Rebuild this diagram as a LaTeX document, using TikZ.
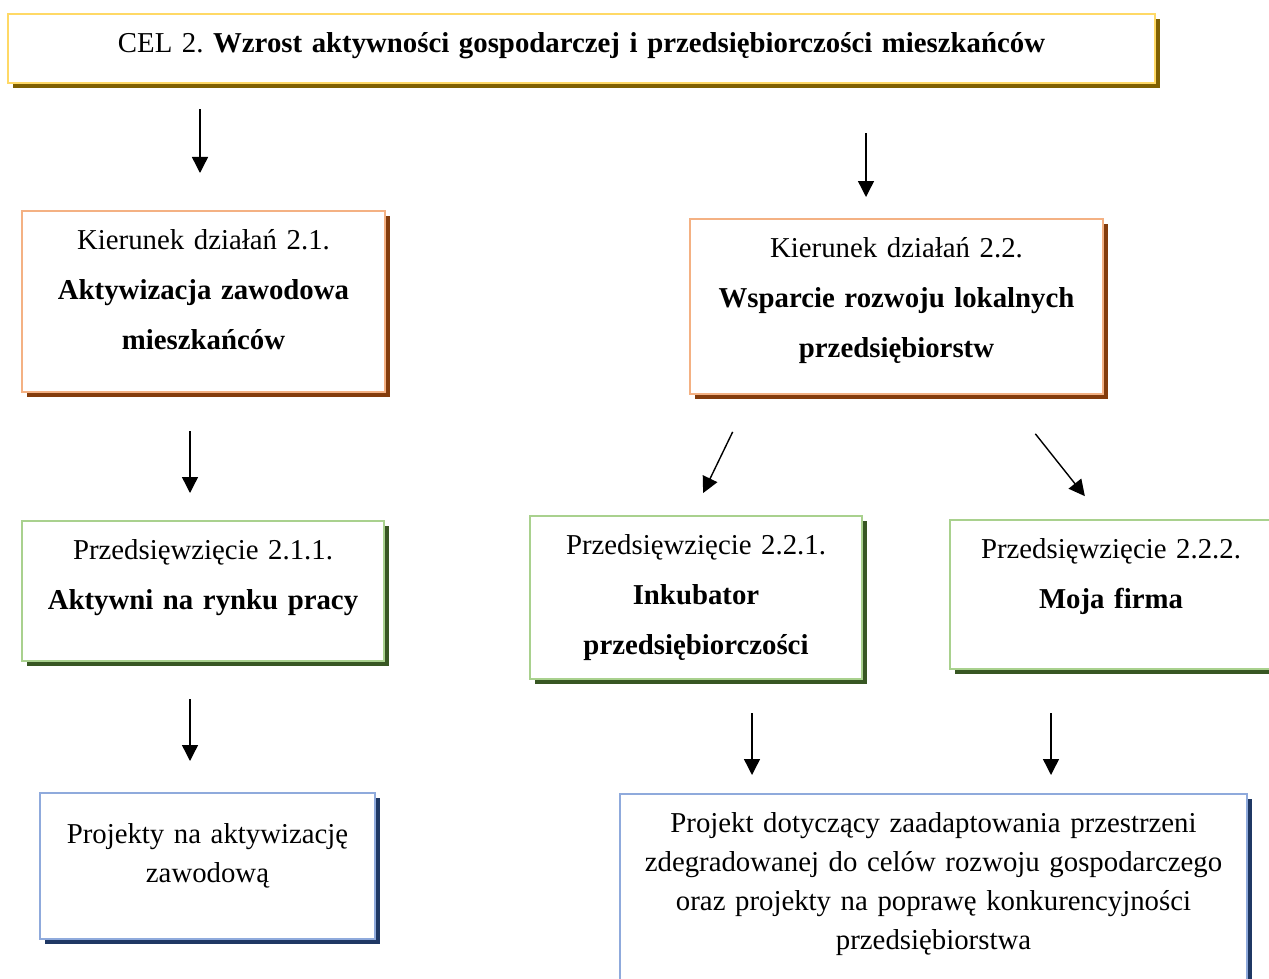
\documentclass[tikz,border=0pt]{standalone}
\usepackage{fontspec}
\setmainfont{Liberation Serif}
\usetikzlibrary{arrows.meta,shadows}
\frenchspacing

\definecolor{goalline}{HTML}{FFD966}
\definecolor{goalshade}{HTML}{806000}
\definecolor{dirline}{HTML}{F4B183}
\definecolor{dirshade}{HTML}{843C0C}
\definecolor{taskline}{HTML}{A9D18E}
\definecolor{taskshade}{HTML}{385723}
\definecolor{projline}{HTML}{8FAADC}
\definecolor{projshade}{HTML}{1F3864}

\begin{document}
\begin{tikzpicture}[
  x=0.5pt, y=-0.5pt,
  box/.style={
    draw, fill=white, line width=1pt, inner sep=0pt, anchor=north,
    align=center, text height=19.25pt,
    font=\fontsize{14.4}{25}\selectfont,
  },
  goal/.style={box, draw=goalline,
    drop shadow={shadow xshift=2.5pt, shadow yshift=-2.5pt, fill=goalshade, opacity=1}},
  direction/.style={box, draw=dirline,
    drop shadow={shadow xshift=2.5pt, shadow yshift=-2.5pt, fill=dirshade, opacity=1}},
  task/.style={box, draw=taskline,
    drop shadow={shadow xshift=2.5pt, shadow yshift=-2.5pt, fill=taskshade, opacity=1}},
  project/.style={box, draw=projline, font=\fontsize{14.4}{19.5}\selectfont,
    drop shadow={shadow xshift=2.5pt, shadow yshift=-2.5pt, fill=projshade, opacity=1}},
  flow/.style={-{Triangle[length=8pt, width=8pt]}, line width=0.7pt},
]
\useasboundingbox (0,0) rectangle (1269,979);

% ---- Goal -----------------------------------------------------------------
\node[goal, text width=573.5pt, text depth=15.5pt] (cel) at (581.5, 13)
  {CEL 2. \textbf{Wzrost aktywności gospodarczej i przedsiębiorczości mieszkańców}};

% ---- Directions of action -------------------------------------------------
\node[direction, text width=181.5pt, text depth=71.25pt] (k21) at (203.5, 210)
  {Kierunek działań 2.1.\\\textbf{Aktywizacja zawodowa}\\\textbf{mieszkańców}};
\node[direction, text width=206.5pt, text depth=68.25pt] (k22) at (896.5, 218)
  {Kierunek działań 2.2.\\\textbf{Wsparcie rozwoju lokalnych}\\\textbf{przedsiębiorstw}};

% ---- Undertakings ---------------------------------------------------------
\node[task, text width=181pt, text depth=50.75pt] (p211) at (203, 520)
  {Przedsięwzięcie 2.1.1.\\\textbf{Aktywni na rynku pracy}};
\node[task, text width=166pt, text depth=62.25pt] (p221) at (696, 515)
  {Przedsięwzięcie 2.2.1.\\\textbf{Inkubator}\\\textbf{przedsiębiorczości}};
\node[task, text width=161pt, text depth=55.25pt] (p222) at (1111, 519)
  {Przedsięwzięcie 2.2.2.\\\textbf{Moja firma}};

% ---- Projects -------------------------------------------------------------
\node[project, text width=167.5pt, text height=25pt, text depth=48pt] (proj21) at (207.5, 792)
  {Projekty na aktywizację\\zawodową};
\node[project, text width=313.5pt, text depth=75.5pt] (proj22) at (933.5, 793)
  {Projekt dotyczący zaadaptowania przestrzeni\\
   zdegradowanej do celów rozwoju gospodarczego\\
   oraz projekty na poprawę konkurencyjności\\
   przedsiębiorstwa};

% ---- Flows: goal to directions --------------------------------------------
\draw[flow, shorten <=12.5pt, shorten >=18.5pt]
  ([xshift=-1.75pt]cel.south -| k21.north) -- ([xshift=-1.75pt]k21.north);
\draw[flow, shorten <=24.5pt, shorten >=10.5pt]
  ([xshift=-15.25pt]cel.south -| k22.north) -- ([xshift=-15.25pt]k22.north);

% ---- Flows: directions to undertakings ------------------------------------
\draw[flow, shorten <=19pt, shorten >=13.5pt]
  ([xshift=-6.75pt]k21.south) -- ([xshift=-6.75pt]k21.south |- p211.north);
\draw[flow, shorten <=20.5pt, shorten >=12.2pt]
  ([xshift=-73pt]k22.south) -- ([xshift=-1.75pt]p221.north);
\draw[flow, shorten <=24.8pt, shorten >=14.6pt]
  ([xshift=54pt]k22.south) -- ([xshift=-4pt]p222.north);

% ---- Flows: undertakings to projects --------------------------------------
\draw[flow, shorten <=18.5pt, shorten >=15.5pt]
  ([xshift=-6.5pt]p211.south) -- ([xshift=-6.5pt]p211.south |- proj21.north);
\draw[flow, shorten <=16.5pt, shorten >=9pt]
  ([xshift=28pt]p221.south) -- ([xshift=28pt]p221.south |- proj22.north);
\draw[flow, shorten <=21.5pt, shorten >=9pt]
  ([xshift=-30pt]p222.south) -- ([xshift=-30pt]p222.south |- proj22.north);

\end{tikzpicture}
\end{document}
